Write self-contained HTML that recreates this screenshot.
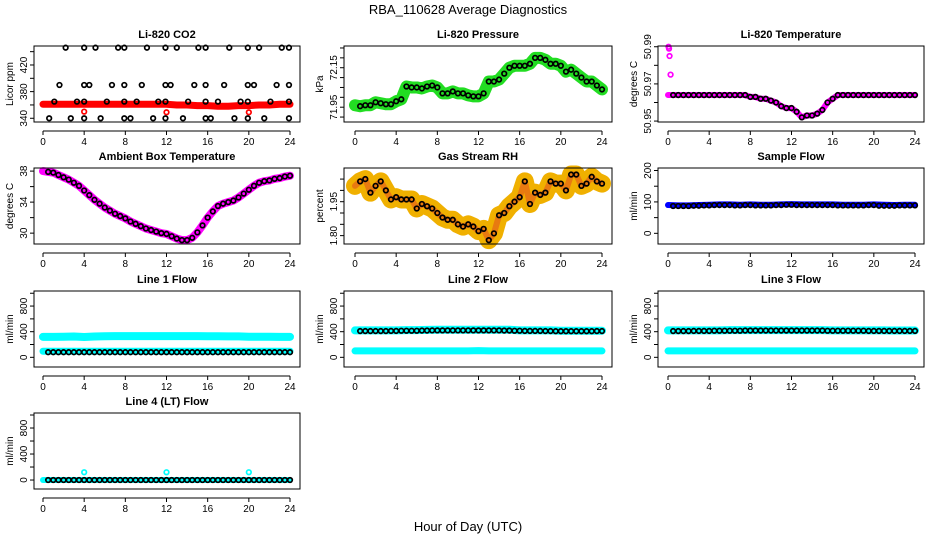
<!DOCTYPE html>
<html><head><meta charset="utf-8"><style>
html,body{margin:0;padding:0;background:#fff;}
svg{display:block;font-family:"Liberation Sans",sans-serif;}
</style></head><body>
<svg id="c" width="936" height="540" viewBox="0 0 936 540">
<text x="468" y="14" text-anchor="middle" font-size="13">RBA_110628  Average Diagnostics</text>
<text x="468" y="531" text-anchor="middle" font-size="13">Hour of Day (UTC)</text>
</svg>
<script>
const HOURS = [0,0.5,1,1.5,2,2.5,3,3.5,4,4.5,5,5.5,6,6.5,7,7.5,8,8.5,9,9.5,10,10.5,11,11.5,12,12.5,13,13.5,14,14.5,15,15.5,16,16.5,17,17.5,18,18.5,19,19.5,20,20.5,21,21.5,22,22.5,23,23.5,24];
const HOURLY = [0,1,2,3,4,5,6,7,8,9,10,11,12,13,14,15,16,17,18,19,20,21,22,23,24];
const X_TICKS = [0,4,8,12,16,20,24];

const CO2_BAND = [361,361,361,361,361,361,361,361,361,361,361,361,361,360,360,359,359,358,358,359,359,360,360,361,361];
const CO2_PT_HOURS = [2.2,4,5.1,7.3,7.9,10.1,11.9,13,15.1,15.8,18.1,19.9,21,23.2,23.9,1.6,4,4.5,6.7,7.9,9.6,11.9,12.4,14.7,15.8,17.6,19.9,20.5,22.7,23.9,1.1,3.3,4,6.2,7.9,9.1,11.2,11.9,14.1,15.8,17,19.2,19.9,22.1,23.9,0.6,2.7,4,5.6,7.9,8.5,10.7,11.9,13.6,15.8,16.3,18.6,19.9,21.5,23.9];
const CO2_PT_VALUES = [446,446,446,446,446,446,446,446,446,446,446,446,446,446,446,390,390,390,390,390,390,390,390,390,390,390,390,390,390,390,365,365,365,365,365,365,365,365,365,365,365,365,365,365,365,340,340,340,340,340,340,340,340,340,340,340,340,340,340,340];
const CO2_RED_HOURS = [4,12,20];
const CO2_RED_VALUES = [350,349,349];

const PRESSURE = [71.96,71.955,71.96,71.96,71.975,71.97,71.965,71.965,71.98,71.99,72.055,72.05,72.05,72.045,72.055,72.06,72.05,72.02,72.02,72.03,72.02,72.02,72.01,72.005,72.005,72.02,72.08,72.08,72.09,72.12,72.15,72.16,72.16,72.16,72.17,72.2,72.2,72.19,72.17,72.17,72.16,72.13,72.14,72.12,72.1,72.08,72.08,72.06,72.04];

const LI_TEMP = [50.964,50.964,50.964,50.964,50.964,50.964,50.964,50.964,50.964,50.964,50.964,50.964,50.964,50.964,50.964,50.964,50.963,50.963,50.962,50.962,50.961,50.96,50.958,50.957,50.957,50.955,50.952,50.953,50.953,50.954,50.956,50.96,50.962,50.964,50.964,50.964,50.964,50.964,50.964,50.964,50.964,50.964,50.964,50.964,50.964,50.964,50.964,50.964,50.964];
const LI_TEMP_SPIKE_HOURS = [0.05,0.1,0.15,0.25];
const LI_TEMP_SPIKE_VALUES = [50.99,50.989,50.985,50.975];

const AMBIENT = [38,37.9,37.8,37.5,37.2,36.9,36.5,36.1,35.5,34.9,34.3,33.8,33.3,32.9,32.5,32.2,31.9,31.5,31.2,30.9,30.6,30.4,30.2,30.0,29.9,29.6,29.3,29.1,29.1,29.4,30.1,31.0,32.0,32.8,33.5,33.8,34.0,34.2,34.6,35.1,35.6,36.1,36.5,36.7,36.8,37.0,37.1,37.3,37.4];

const RH = [2.02,2.04,2.05,1.99,2.02,2.04,2.0,1.96,1.97,1.96,1.96,1.96,1.92,1.94,1.93,1.92,1.9,1.88,1.87,1.87,1.85,1.84,1.85,1.84,1.82,1.83,1.78,1.81,1.89,1.9,1.93,1.95,1.97,2.04,1.94,1.99,1.98,1.99,2.04,2.03,2.03,2.0,2.07,2.07,2.02,2.03,2.06,2.04,2.03];

const SAMPLE_BAND = [90,89,89,90,91,92,92,91,92,91,91,92,93,92,92,92,92,91,91,91,92,91,90,91,91];
const SAMPLE_PTS = [88,87,87,88,89,90,90,89,90,89,89,90,91,90,90,90,90,89,89,89,90,88,88,89,89];

const L1_HIGH = [320,320,322,325,318,325,328,330,330,330,330,330,330,330,330,330,328,328,326,326,322,322,322,320,320];
const L1_LOW = [95,95,95,95,95,95,95,95,95,95,95,95,95,95,95,95,95,95,95,95,95,95,95,95,95];
const L1_BLACK = [80,80,80,80,80,80,80,80,80,80,80,80,80,80,80,80,80,80,80,80,80,80,80,80,80];

const L2_HIGH = [420,420,420,420,420,425,425,428,430,430,430,430,430,430,430,430,420,420,420,420,415,415,415,415,415];
const L2_LOW = [100,100,100,100,100,100,100,100,100,100,100,100,105,100,100,100,100,100,100,100,100,100,100,100,100];
const L2_BLACK = [410,410,410,410,412,415,415,418,420,420,420,420,420,420,420,418,415,412,412,410,408,408,408,408,410];

const L3_HIGH = [420,420,420,420,420,420,425,425,425,425,425,425,425,425,425,425,420,420,420,420,420,420,418,418,418];
const L3_LOW = [100,100,100,100,100,100,100,100,100,100,100,100,100,100,100,100,100,100,100,100,100,100,100,100,100];
const L3_BLACK = [410,410,410,412,412,415,415,415,418,418,418,418,418,418,418,418,415,415,415,415,412,412,412,412,412];

const L4_CYAN = [0,0,0,0,0,0,0,0,0,0,0,0,0,0,0,0,0,0,0,0,0,0,0,0,0];
const L4_BLACK = [0,0,0,0,0,0,0,0,0,0,0,0,0,0,0,0,0,0,0,0,0,0,0,0,0];
const L4_OUT_HOURS = [4,12,20];
const L4_OUT_VALUES = [120,120,120];

const NS = "http://www.w3.org/2000/svg";
const svg = document.getElementById('c');
function mk(tag, attrs, parent){ const e=document.createElementNS(NS,tag); for(const k in attrs) e.setAttribute(k,attrs[k]); (parent||svg).appendChild(e); return e; }

const COLS = [[34,300,43,290],[344,612,355,602],[658,924,668,915]];
const ROWS = [[46,122],[168,244],[291,367],[413,489]];

function panel(col,row,title,ylab,ymin,ymax,ticks,labels,name){
  const [bx0,bx1,x0,x24]=COLS[col]; const [by0,by1]=ROWS[row];
  const g=mk('g',{});
  
  
  const X=h=>x0+(x24-x0)*h/24;
  const Y=v=>by1-(v-ymin)/(ymax-ymin)*(by1-by0);
  const t=mk('text',{x:(bx0+bx1)/2,y:by0-8,'text-anchor':'middle','font-size':11,'font-weight':'bold'},g);
  t.textContent=title;
  
  
  const ax=mk('g',{},g);
  
  
  const ay=by1+9;
  mk('line',{x1:x0,x2:x24,y1:ay,y2:ay,stroke:'#000','stroke-width':1},ax);
  X_TICKS.forEach(h=>{
    mk('line',{x1:X(h),x2:X(h),y1:ay,y2:ay+4,stroke:'#000','stroke-width':1},ax);
    const l=mk('text',{x:X(h),y:ay+14,'text-anchor':'middle','font-size':10},ax); l.textContent=h;
  });
  const yax=mk('g',{},g);
  
  
  mk('line',{x1:bx0,x2:bx0,y1:Y(ticks[0]),y2:Y(ticks[ticks.length-1]),stroke:'#000'},yax);
  ticks.forEach(v=>{
    mk('line',{x1:bx0-4,x2:bx0,y1:Y(v),y2:Y(v),stroke:'#000'},yax);
  });
  labels.forEach(s=>{
    const l=mk('text',{x:0,y:0,'text-anchor':'middle','font-size':10,transform:`translate(${bx0-7},${Y(parseFloat(s))}) rotate(-90)`},yax);
    l.textContent=s;
  });
  const yl=mk('text',{x:0,y:0,'text-anchor':'middle','font-size':10,transform:`translate(${bx0-21},${(by0+by1)/2}) rotate(-90)`},g);
  yl.textContent=ylab;
  
  
  const plot=mk('g',{},g);
  mk('rect',{x:bx0,y:by0,width:bx1-bx0,height:by1-by0,fill:'none',stroke:'#000','stroke-width':1},g);
  return {X,Y,plot};
}
function band(p,hs,vs,color,w,name){
  const pts=hs.map((h,i)=>p.X(h)+','+p.Y(vs[i])).join(' ');
  const e=mk('polyline',{points:pts,fill:'none',stroke:color,'stroke-width':w,'stroke-linejoin':'round','stroke-linecap':'round'},p.plot);
  
  
}
function dots(p,hs,vs,color,start,name){
  for(let i=start;i<hs.length;i++){
    const c=mk('circle',{cx:p.X(hs[i]),cy:p.Y(vs[i]),r:2.3,fill:'none',stroke:color,'stroke-width':1.7},p.plot);
    
    
  }
}
function dotsFrom(p,hs,vs,color,name){ dots(p,hs,vs,color,0,name); }

let p;
p=panel(0,0,'Li-820 CO2','Licor ppm',334.4,448.5,[340,360,380,400,420,440],['340','380','420'],'co2');
band(p,HOURLY,CO2_BAND,'#ff0000',7,'co2-band');
dotsFrom(p,CO2_RED_HOURS,CO2_RED_VALUES,'#ff0000','co2-red-point');
dotsFrom(p,CO2_PT_HOURS,CO2_PT_VALUES,'#000','co2-point');

p=panel(1,0,'Li-820 Pressure','kPa',71.875,72.26,[71.9,71.95,72,72.05,72.1,72.15,72.2,72.25],['71.95','72.15'],'pressure');
band(p,HOURS,PRESSURE,'#22dd22',12,'pressure-band');
dots(p,HOURS,PRESSURE,'#000',1,'pressure-point');

p=panel(2,0,'Li-820 Temperature','degrees C',50.9495,50.9904,[50.95,50.96,50.97,50.98,50.99],['50.95','50.97','50.99'],'li-temp');
band(p,HOURS,LI_TEMP,'#ff00ff',6,'li-temp-band');
dotsFrom(p,LI_TEMP_SPIKE_HOURS,LI_TEMP_SPIKE_VALUES,'#ff00ff','li-temp-spike');
dots(p,HOURS,LI_TEMP,'#000',1,'li-temp-point');

p=panel(0,1,'Ambient Box Temperature','degrees C',28.6,38.4,[30,32,34,36,38],['30','34','38'],'ambient');
band(p,HOURS,AMBIENT,'#ff00ff',8,'ambient-band');
dots(p,HOURS,AMBIENT,'#000',1,'ambient-point');

p=panel(1,1,'Gas Stream RH','percent',1.763,2.099,[1.8,1.85,1.9,1.95,2,2.05],['1.80','1.95'],'rh');
band(p,HOURS,RH,'#f0b000',18,'rh-band');
band(p,HOURS,RH,'#e87a10',6,'rh-band-core');
dots(p,HOURS,RH,'#000',1,'rh-point');

p=panel(2,1,'Sample Flow','ml/min',-34,208,[0,50,100,150,200],['0','100','200'],'sample');
band(p,HOURLY,SAMPLE_BAND,'#0000ff',6,'sample-band');
dots(p,HOURS.slice(1),HOURS.slice(1).map(h=>SAMPLE_PTS[Math.round(h)]),'#000',0,'sample-point');

p=panel(0,2,'Line 1 Flow','ml/min',-151,1035,[0,200,400,600,800,1000],['0','400','800'],'line1');
band(p,HOURLY,L1_HIGH,'#00ffff',8,'line1-high-band');
band(p,HOURLY,L1_LOW,'#00ffff',7,'line1-low-band');
dots(p,HOURS.slice(1),HOURS.slice(1).map(h=>L1_BLACK[Math.round(h)]),'#000',0,'line1-point');

p=panel(1,2,'Line 2 Flow','ml/min',-151,1035,[0,200,400,600,800,1000],['0','400','800'],'line2');
band(p,HOURLY,L2_HIGH,'#00ffff',8,'line2-high-band');
band(p,HOURLY,L2_LOW,'#00ffff',7,'line2-low-band');
dots(p,HOURS.slice(1),HOURS.slice(1).map(h=>L2_BLACK[Math.round(h)]),'#000',0,'line2-point');

p=panel(2,2,'Line 3 Flow','ml/min',-151,1035,[0,200,400,600,800,1000],['0','400','800'],'line3');
band(p,HOURLY,L3_HIGH,'#00ffff',8,'line3-high-band');
band(p,HOURLY,L3_LOW,'#00ffff',7,'line3-low-band');
dots(p,HOURS.slice(1),HOURS.slice(1).map(h=>L3_BLACK[Math.round(h)]),'#000',0,'line3-point');

p=panel(0,3,'Line 4 (LT) Flow','ml/min',-138,1031,[0,200,400,600,800,1000],['0','400','800'],'line4');
band(p,HOURLY,L4_CYAN,'#00ffff',6,'line4-band');
dotsFrom(p,L4_OUT_HOURS,L4_OUT_VALUES,'#00ffff','line4-outlier');
dots(p,HOURS.slice(1),HOURS.slice(1).map(h=>L4_BLACK[Math.round(h)]),'#000',0,'line4-point');
</script>
</body></html>
